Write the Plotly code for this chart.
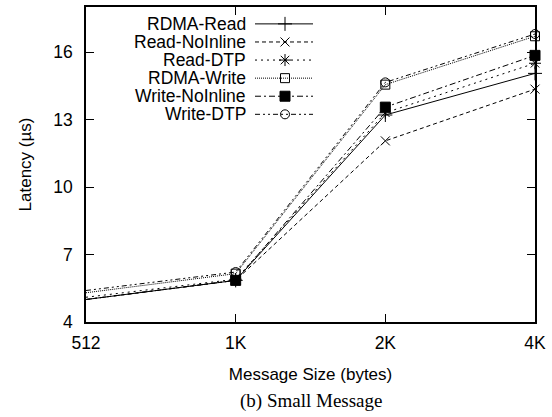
import math
import plotly.graph_objects as go

sizes = [512, 1024, 2048, 4096]
tick_labels = ["512", "1K", "2K", "4K"]
y_ticks = [4, 7, 10, 13, 16]

series_names = ["RDMA-Read", "Read-NoInline", "Read-DTP", "RDMA-Write", "Write-NoInline", "Write-DTP"]
rdma_read = [5.0, 5.85, 13.2, 15.05]
read_noinline = [5.0, 5.85, 12.05, 14.35]
read_dtp = [5.1, 5.9, 13.3, 15.5]
rdma_write = [5.3, 6.15, 14.55, 16.7]
write_noinline = [5.0, 5.85, 13.55, 15.85]
write_dtp = [5.4, 6.22, 14.65, 16.8]
series_values = [rdma_read, read_noinline, read_dtp, rdma_write, write_noinline, write_dtp]

dashes = ["solid", "4px,3px", "2px,4px", "1px,1px", "6px,3px,2px,3px", "5px,3px,2px,3px,2px,3px"]
symbols = ["cross-thin-open", "x-thin-open", "asterisk-open", "square-open", "square", "circle-open"]
sizes_m = [10, 9, 10, 9, 10, 9]

SANS = "Liberation Sans, Arial"
fig = go.Figure()
for name, vals, d, s, ms in zip(series_names, series_values, dashes, symbols, sizes_m):
    fig.add_trace(go.Scatter(
        x=sizes, y=vals, mode="lines+markers", name=name, showlegend=False,
        line=dict(color="black", width=1, dash=d),
        marker=dict(symbol=s, size=ms, color="black", line=dict(color="black", width=1)),
        cliponaxis=False,
    ))

# custom legend (text on the left, sample on the right), drawn on an overlay axis in pixel units
L, R, T, B = 86, 535, 5, 322
row_y0, row_dy = 22, 18.2
for i, (name, d, s, ms) in enumerate(zip(series_names, dashes, symbols, sizes_m)):
    yy = row_y0 + i * row_dy
    fig.add_trace(go.Scatter(
        x=[255, 313], y=[yy, yy], mode="lines", xaxis="x2", yaxis="y2", showlegend=False,
        line=dict(color="black", width=1, dash=d), hoverinfo="skip", cliponaxis=False))
    fig.add_trace(go.Scatter(
        x=[285], y=[yy], mode="markers", xaxis="x2", yaxis="y2", showlegend=False,
        marker=dict(symbol=s, size=ms, color="black", line=dict(color="black", width=1)),
        hoverinfo="skip", cliponaxis=False))
    fig.add_annotation(x=248, y=yy, xref="x2", yref="y2", text=name, showarrow=False,
                       xanchor="right", yanchor="middle",
                       font=dict(family=SANS, size=17.5, color="black"))

axis_common = dict(showline=True, linecolor="black", linewidth=1.5, mirror="ticks",
                   ticks="inside", ticklen=8, tickwidth=1, tickcolor="black",
                   showgrid=False, zeroline=False,
                   tickfont=dict(family=SANS, size=17.5, color="black"))

fig.update_layout(
    width=552, height=417,
    margin=dict(l=L, r=552 - R, t=T, b=417 - B),
    paper_bgcolor="white", plot_bgcolor="white",
    xaxis=dict(type="log", range=[math.log10(512), math.log10(4096)],
               tickvals=sizes, ticktext=tick_labels, ticklabelstandoff=4,
               title=dict(text="Message Size (bytes)", standoff=16,
                          font=dict(family=SANS, size=17, color="black")),
               **axis_common),
    yaxis=dict(range=[4, 18], tickvals=y_ticks, ticklabelstandoff=8,
               title=dict(text="Latency (µs)", standoff=17,
                          font=dict(family=SANS, size=17, color="black")),
               **axis_common),
    xaxis2=dict(overlaying="x", range=[L, R], visible=False, fixedrange=True),
    yaxis2=dict(overlaying="y", range=[B, T], visible=False, fixedrange=True),
)

fig.add_annotation(x=0.5, y=0, xref="paper", yref="paper", yshift=-66, text="(b) Small Message",
                   showarrow=False, xanchor="center", yanchor="top",
                   font=dict(family="Liberation Serif, Times New Roman", size=19, color="black"))

fig.write_html("out.html", config={"displayModeBar": False},
               post_script="document.body.style.margin='0';document.body.style.padding='0';")
